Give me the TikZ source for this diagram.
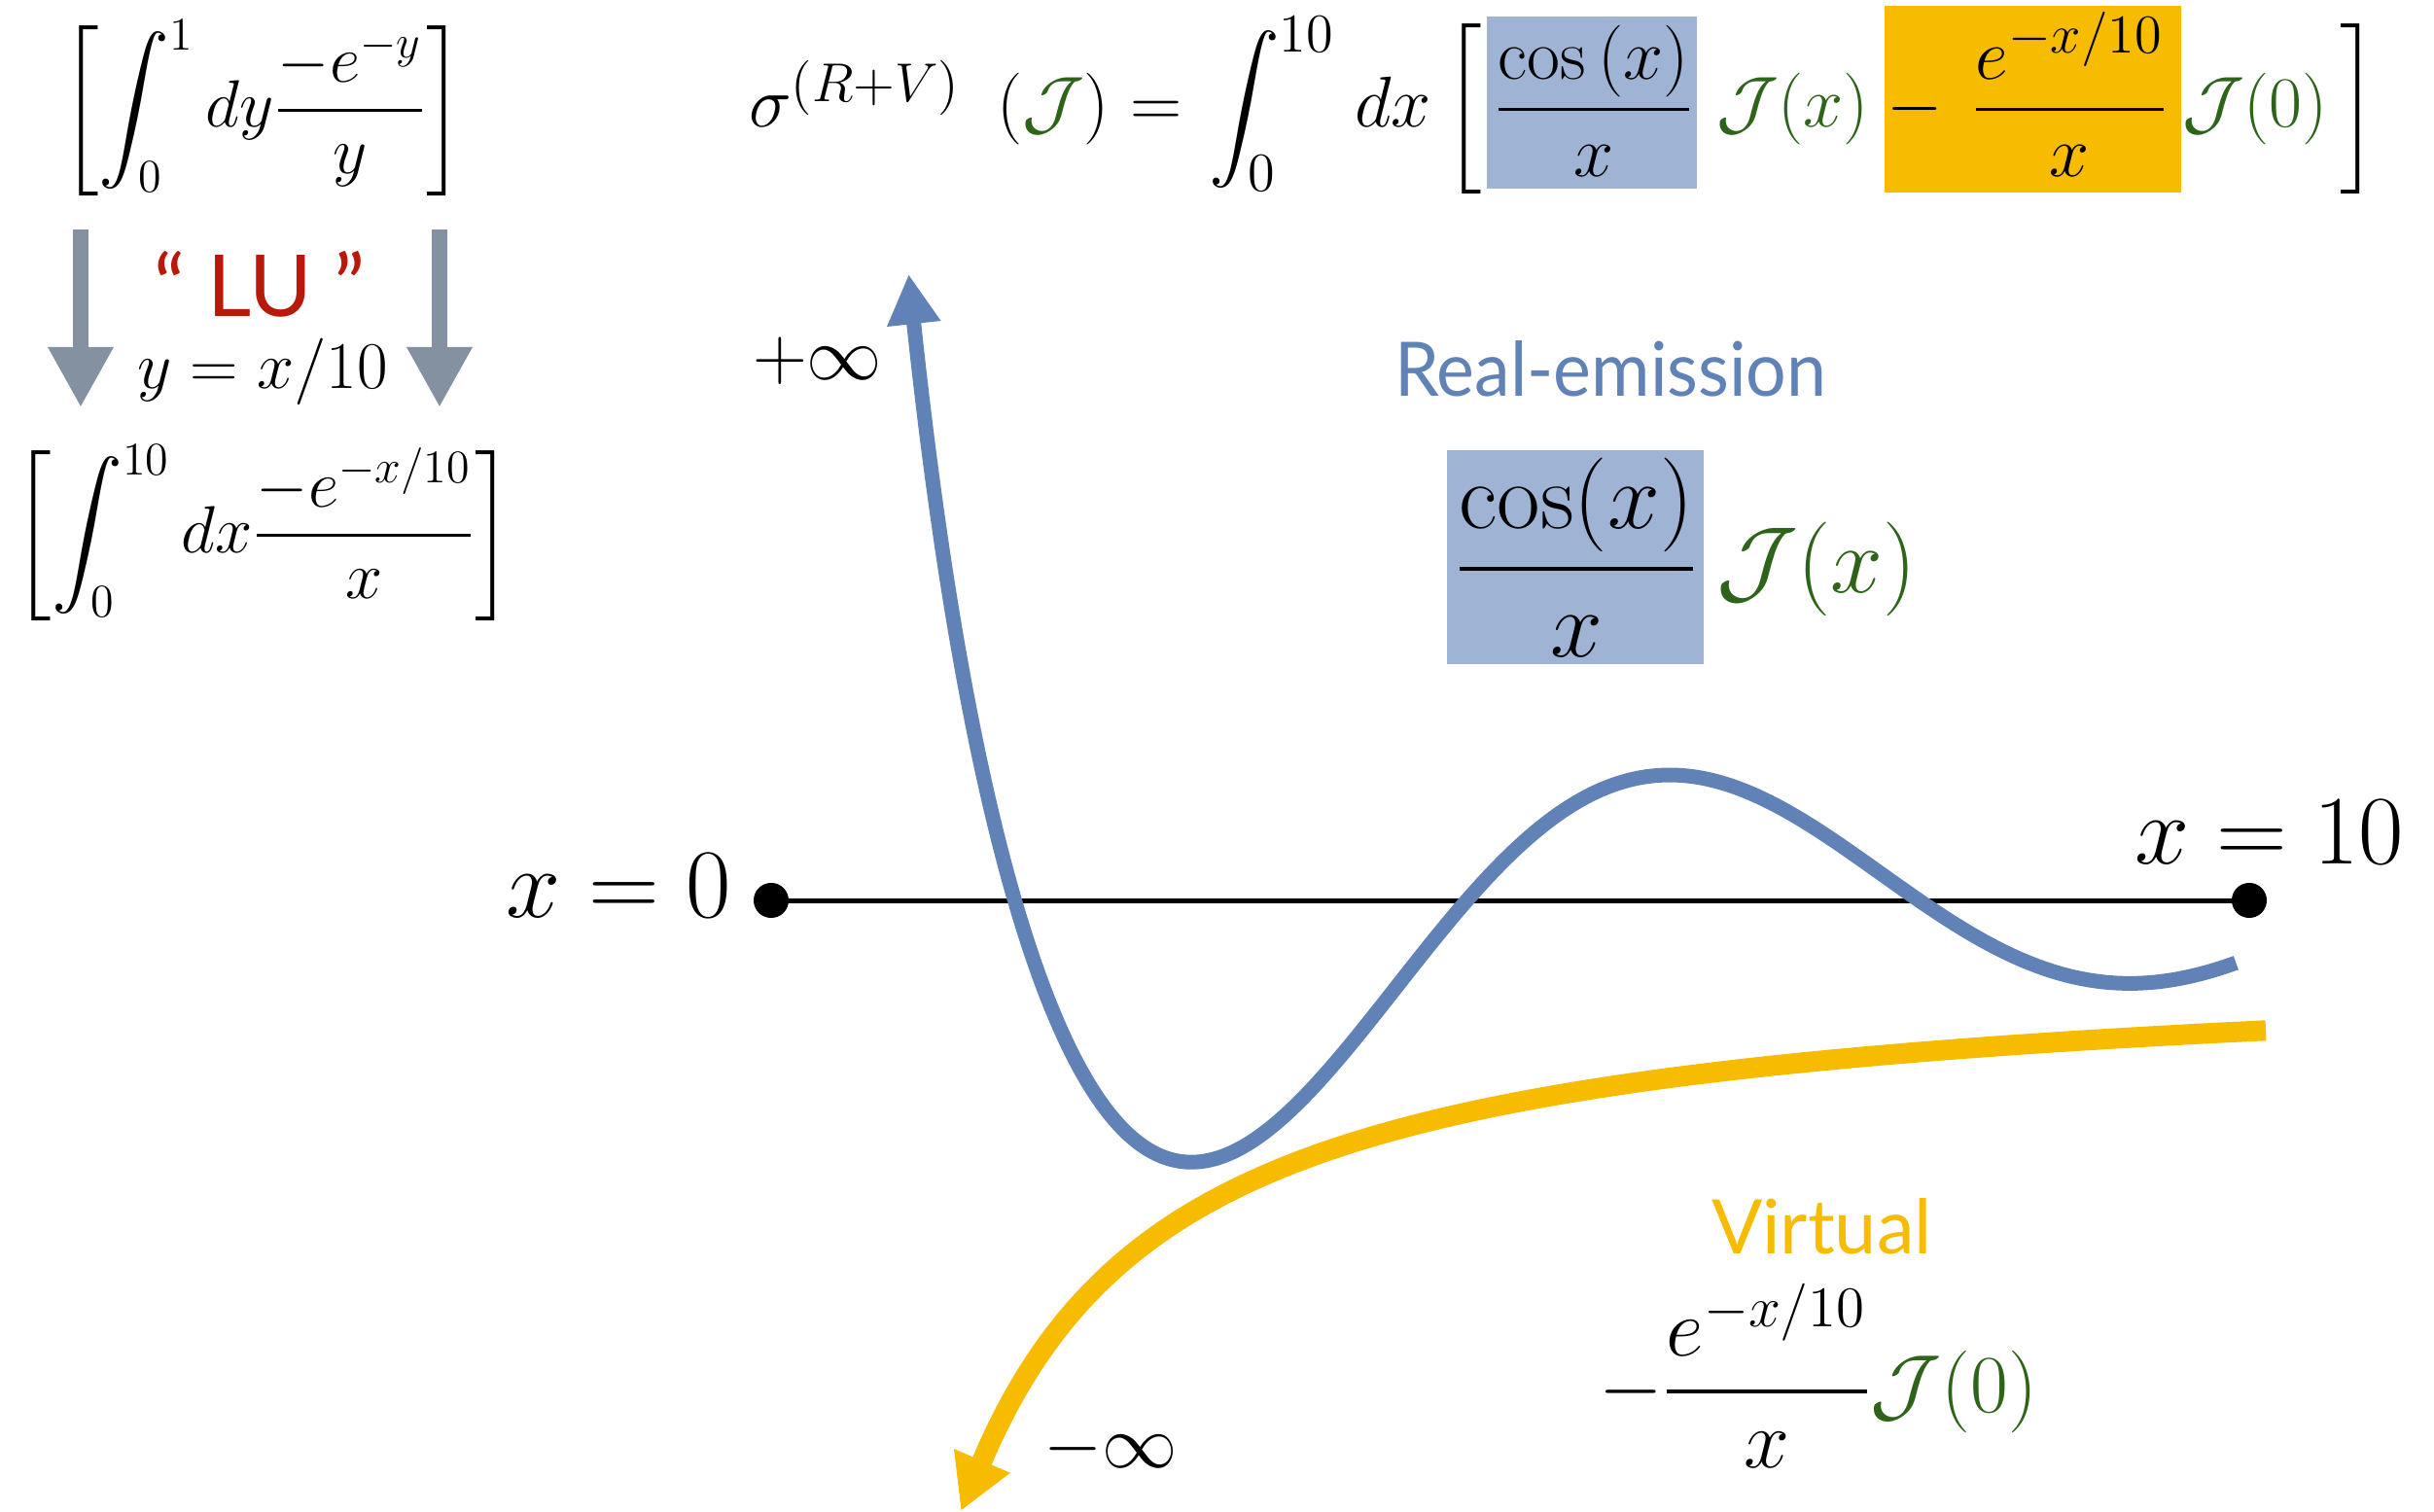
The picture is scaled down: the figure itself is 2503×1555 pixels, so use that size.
\RequirePackage{fix-cm}
\documentclass[tikz,border=0pt]{standalone}
\usepackage{amsmath}
\usepackage{graphicx}
\usepackage[no-math]{fontspec}
\newfontfamily\gillfont{Lato}
\usetikzlibrary{arrows.meta}
\DeclareMathSizes{21}{21}{16}{12}
\definecolor{reblue}{RGB}{96,130,182}
\definecolor{boxblue}{RGB}{159,180,212}
\definecolor{virtyel}{RGB}{247,188,0}
\definecolor{jgreen}{RGB}{45,100,25}
\definecolor{lured}{RGB}{185,25,10}
\definecolor{arrgray}{RGB}{131,145,160}
\newcommand\myfs[1]{\fontsize{#1}{#1}\selectfont}
\newcommand\gJ{\textcolor{jgreen}{\mathcal{J}}}
\begin{document}
\begin{tikzpicture}[x=0.01cm,y=-0.01cm,
  every node/.style={inner sep=0pt,outer sep=0pt},
  topm/.style={font=\myfs{21}},
  leftm/.style={font=\myfs{19.5}},
  bigm/.style={font=\myfs{28.7}},
  midm/.style={font=\myfs{27.5}},
  virtm/.style={font=\myfs{24}},
  labelsans/.style={font=\gillfont\myfs{22}},
  grayarrow/.style={draw=arrgray,line width=0.16cm,-{Triangle[length=0.62cm,width=0.63cm]},arrgray},
  dotnode/.style={circle,fill=black,minimum size=0.36cm}
]
\useasboundingbox[fill=white] (0,0) rectangle (2503,1555);

% ---------- top formula ----------
\fill[boxblue] (1529,17) rectangle (1745,194);
\fill[virtyel] (1938,6) rectangle (2243,198);
\node[topm,anchor=base west] (sig) at (770,131) {$\sigma^{(R+V)}$};
\node[topm,anchor=base west] (parJ) at (1025,131) {$(\gJ)$};
\node[topm,anchor=base west] (eq) at (1162,131) {$=$};
\node[topm,anchor=base west] (intt) at (1243,131) {$\displaystyle\int_0^{10}$};
\node[topm,anchor=base west] (dxt) at (1393,131) {$dx$};
\node[topm,anchor=base west] (lbr) at (1485,131) {$\biggl[$};
\node[topm,anchor=base] (fracR) at (1639,131) {$\displaystyle\frac{\cos\left(x\right)}{x}$};
\node[topm,anchor=base west] (Jx) at (1765,131) {\color{jgreen}$\mathcal{J}(x)$};
\node[topm,anchor=base west] (mn) at (1940,131) {$-$};
\node[topm,anchor=base] (fracV) at (2128,131) {$\displaystyle\frac{e^{-x/10}}{x}$};
\node[topm,anchor=base west] (J0) at (2244,131) {\color{jgreen}$\mathcal{J}(0)$};
\node[topm,anchor=base west] (rbr) at (2406,131) {$\biggr]$};

% ---------- left formulas ----------
\node[leftm,anchor=base] (f1) at (270,131) {$\displaystyle\biggl[\int_0^1 dy\frac{-e^{-y}}{y}\biggr]$};
\node[leftm,anchor=base] (f2) at (271,568) {$\displaystyle\biggl[\int_0^{10} dx\frac{-e^{-x/10}}{x}\biggr]$};
\coordinate (la1) at (83,236);
\coordinate (la2) at (83,419);
\coordinate (ra1) at (452,236);
\coordinate (ra2) at (452,419);
\draw[grayarrow] (la1) -- (la2);
\draw[grayarrow] (ra1) -- (ra2);
\node[font=\gillfont\myfs{25},text=lured,anchor=base] (lu) at (267,326) {“ LU ”};
\node[leftm,anchor=base] (sub) at (270,400) {$y = x/10$};

% ---------- axis ----------
\node[dotnode] (p0) at (793,926) {};
\node[dotnode] (p10) at (2313,926) {};
\draw[line width=0.05cm] (p0.center) -- (p10.center);
\node[bigm,anchor=base east] (x0) at (752,943) {$x = 0$};
\node[bigm,anchor=base west] (x10) at (2195,888) {$x = 10$};

% ---------- blue curve: cos(t)/t ----------
\draw[reblue,line width=0.15cm] plot[domain=0.86:10.06,samples=260,smooth]
  ({811+148*\x},{926-800*cos(\x r)/\x});
\fill[reblue] (934.5,283) -- (967.6,330) -- (912,336) -- cycle;
\node[font=\myfs{22},anchor=base west] (pinf) at (774,391) {$+\infty$};

% ---------- yellow curve ----------
\draw[virtyel,line width=0.21cm] plot[domain=2330:1006,samples=200,smooth]
  ({\x},{986+1136/(\x/100-7.9)});
\fill[virtyel] (988.5,1553) -- (1039,1514.7) -- (981,1490.1) -- cycle;
\node[font=\myfs{22},anchor=base west] (minf) at (1073,1509) {$-\infty$};

% ---------- real emission label ----------
\node[labelsans,text=reblue,anchor=base west] (rel) at (1434,408) {\scalebox{0.95}[1]{Real-emission}};
\fill[boxblue] (1488,463) rectangle (1752,683);
\node[midm,anchor=base] (rfrac) at (1621,609) {$\displaystyle\frac{\cos(x)}{x}$};
\node[midm,anchor=base west] (rJ) at (1765,609) {\color{jgreen}$\mathcal{J}(x)$};

% ---------- virtual label ----------
\node[labelsans,text=virtyel,anchor=base west] (virt) at (1760,1289) {Virtual};
\node[virtm,anchor=base west] (vfrac) at (1644,1452) {$-\displaystyle\frac{e^{-x/10}}{x}\textcolor{jgreen}{\mathcal{J}(0)}$};
\end{tikzpicture}
\end{document}
